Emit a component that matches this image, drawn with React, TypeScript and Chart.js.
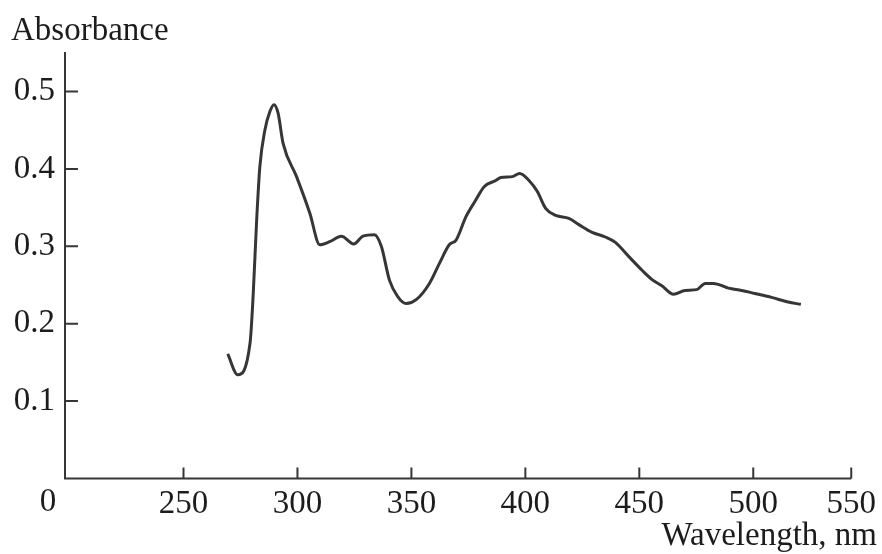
import React, { useEffect, useRef } from 'react';
import { Chart, registerables } from 'chart.js';

Chart.register(...registerables);

const wavelengths = [
  269.4, 273.8, 279.2, 280.6, 282.1, 283.5, 285.7, 287.9, 289.7, 291.5, 293.7, 299.6,
  305.4, 309.8, 314.2, 319.3, 324.7, 328.7, 333.8, 336.8, 340.4, 344.0, 347.7, 352.1,
  357.9, 362.3, 366.6, 369.6, 373.9, 378.3, 381.9, 387.0, 389.2, 394.3, 397.5, 401.6,
  405.2, 408.9, 413.3, 419.1, 423.5, 429.3, 435.1, 439.5, 445.3, 451.2, 455.6, 459.9,
  465.0, 470.1, 475.2, 478.9, 482.5, 489.1, 494.9, 500.7, 508.0, 515.3, 520.9,
];
const absorbance = [
  0.161, 0.134, 0.175, 0.239, 0.334, 0.403, 0.45, 0.474, 0.483, 0.472, 0.433, 0.39,
  0.343, 0.302, 0.306, 0.313, 0.303, 0.313, 0.315, 0.3, 0.256, 0.235, 0.226, 0.231,
  0.252, 0.278, 0.302, 0.308, 0.338, 0.36, 0.377, 0.385, 0.389, 0.39, 0.394, 0.385,
  0.371, 0.349, 0.34, 0.336, 0.328, 0.318, 0.312, 0.305, 0.287, 0.269, 0.257, 0.249,
  0.238, 0.243, 0.244, 0.252, 0.252, 0.246, 0.243, 0.239, 0.234, 0.228, 0.225,
];

const xTickValues = [250, 300, 350, 400, 450, 500, 543];
const xTickLabels = ['250', '300', '350', '400', '450', '500', '550'];
const yTickValues = [0.1, 0.2, 0.3, 0.4, 0.5];
const yTickLabels = ['0.1', '0.2', '0.3', '0.4', '0.5'];
const originLabel = '0';
const yTitle = 'Absorbance';
const xTitle = 'Wavelength, nm';

const FONT = '"Liberation Serif", "Times New Roman", serif';
const INK = '#1c1c1c';
const LINE = '#363636';

const axesPlugin = {
  id: 'sketchAxes',
  afterDraw(chart: any) {
    const { ctx, chartArea, scales } = chart;
    const x = scales.x;
    const y = scales.y;
    ctx.save();
    ctx.strokeStyle = LINE;
    ctx.lineWidth = 2;
    ctx.beginPath();
    ctx.moveTo(chartArea.left, chartArea.top);
    ctx.lineTo(chartArea.left, chartArea.bottom);
    ctx.lineTo(chartArea.right, chartArea.bottom);
    yTickValues.forEach((v) => {
      const py = y.getPixelForValue(v);
      ctx.moveTo(chartArea.left, py);
      ctx.lineTo(chartArea.left + 13, py);
    });
    xTickValues.forEach((v) => {
      const px = x.getPixelForValue(v);
      ctx.moveTo(px, chartArea.bottom);
      ctx.lineTo(px, chartArea.bottom - 11);
    });
    ctx.stroke();

    ctx.fillStyle = INK;
    ctx.font = `33px ${FONT}`;
    ctx.textBaseline = 'alphabetic';
    ctx.textAlign = 'left';
    ctx.fillText(yTitle, 11, 40);
    ctx.textAlign = 'right';
    ctx.fillText(xTitle, 877, 545);
    ctx.textAlign = 'center';
    ctx.textBaseline = 'middle';
    ctx.fillText(originLabel, chartArea.left - 17, 502);
    ctx.restore();
  },
};

export default function App() {
  const canvasRef = useRef<HTMLCanvasElement | null>(null);

  useEffect(() => {
    const canvas = canvasRef.current;
    if (!canvas) return;
    const chart = new Chart(canvas, {
      type: 'line',
      data: {
        datasets: [
          {
            data: wavelengths.map((w, i) => ({ x: w, y: absorbance[i] })),
            borderColor: LINE,
            borderWidth: 3,
            pointRadius: 0,
            fill: false,
            cubicInterpolationMode: 'monotone',
          },
        ],
      },
      options: {
        animation: false,
        responsive: false,
        maintainAspectRatio: false,
        layout: { padding: { left: 8, right: 29, top: 52, bottom: 0 } },
        plugins: { legend: { display: false }, tooltip: { enabled: false } },
        scales: {
          x: {
            type: 'linear',
            min: 198,
            max: 543,
            grid: { display: false, drawTicks: false },
            border: { display: false },
            afterBuildTicks: (s: any) => {
              s.ticks = xTickValues.map((v) => ({ value: v }));
            },
            afterFit: (s: any) => {
              s.height = 75.5;
            },
            ticks: {
              padding: 6,
              autoSkip: false,
              maxRotation: 0,
              color: INK,
              font: { family: FONT, size: 33 },
              callback: (_v: any, i: number) => xTickLabels[i],
            },
          },
          y: {
            type: 'linear',
            min: 0,
            max: 0.551,
            grid: { display: false, drawTicks: false },
            border: { display: false },
            afterBuildTicks: (s: any) => {
              s.ticks = yTickValues.map((v) => ({ value: v }));
            },
            afterFit: (s: any) => {
              s.width = 57;
            },
            ticks: {
              padding: 10,
              autoSkip: false,
              color: INK,
              font: { family: FONT, size: 33 },
              callback: (_v: any, i: number) => yTickLabels[i],
            },
          },
        },
      },
      plugins: [axesPlugin],
    });
    return () => chart.destroy();
  }, []);

  return (
    <div style={{ position: 'fixed', left: 0, top: 0, width: 882, height: 554, background: '#fff' }}>
      <canvas ref={canvasRef} width={882} height={554} style={{ display: 'block' }} />
    </div>
  );
}
